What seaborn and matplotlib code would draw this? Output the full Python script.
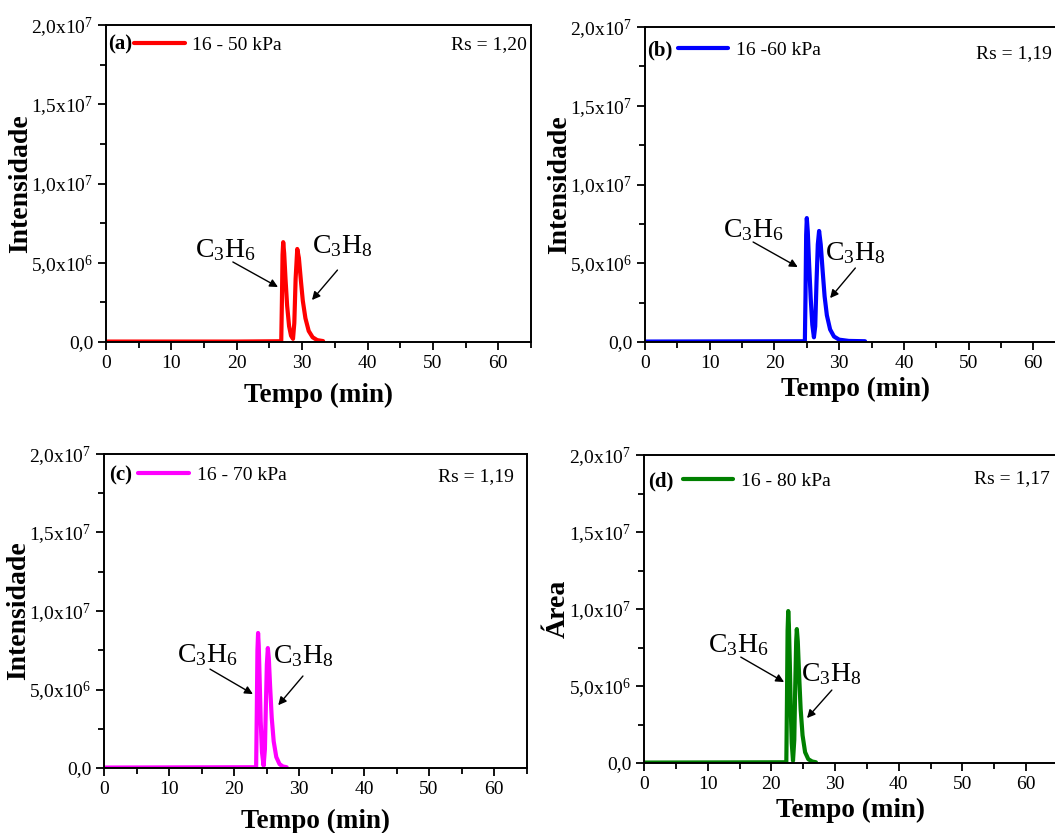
import matplotlib
matplotlib.use("Agg")
import matplotlib.pyplot as plt
import seaborn as sns
import pandas as pd

# ---------------- data ----------------
t_a = [0, 20, 26.8, 26.9, 27.0, 27.1, 27.25, 27.45, 27.7, 28.0, 28.3, 28.6, 28.8, 29.0,
       29.25, 29.5, 29.8, 30.1, 30.5, 31.0, 31.6, 32.3, 33.2]
i_a = [0.03, 0.03, 0.05, 2.5, 5.5, 6.3, 5.6, 4.0, 2.3, 1.0, 0.4, 0.2, 1.2, 4.0,
       5.87, 5.3, 3.9, 2.6, 1.5, 0.7, 0.3, 0.12, 0.06]

t_b = [0, 24.7, 24.8, 24.9, 25.0, 25.15, 25.35, 25.6, 25.85, 26.1, 26.3, 26.5, 26.7, 26.9,
       27.15, 27.45, 27.75, 28.1, 28.6, 29.2, 30.0, 31.5, 34.0]
i_b = [0.03, 0.05, 3.0, 6.8, 7.87, 7.0, 5.0, 2.8, 1.1, 0.3, 1.0, 3.8, 6.2, 7.05,
       6.2, 4.5, 2.9, 1.7, 0.8, 0.35, 0.15, 0.07, 0.05]

t_c = [0, 23.4, 23.5, 23.6, 23.7, 23.8, 23.95, 24.1, 24.3, 24.55, 24.75, 24.9, 25.05, 25.2,
       25.35, 25.55, 25.8, 26.1, 26.5, 27.0, 27.5, 28.1]
i_c = [0.03, 0.05, 3.5, 7.5, 8.6, 7.8, 5.5, 3.0, 1.0, 0.15, 1.2, 4.0, 6.6, 7.64,
       7.0, 5.2, 3.2, 1.7, 0.7, 0.25, 0.1, 0.05]

t_d = [0, 22.35, 22.45, 22.55, 22.65, 22.75, 22.9, 23.05, 23.2, 23.4, 23.6, 23.75, 23.9, 24.0,
       24.15, 24.35, 24.6, 24.9, 25.3, 25.8, 26.4, 27.0]
i_d = [0.03, 0.05, 4.0, 8.6, 9.87, 9.0, 6.5, 3.5, 1.3, 0.15, 1.5, 5.0, 7.9, 8.7,
       7.9, 5.8, 3.5, 1.8, 0.7, 0.25, 0.1, 0.05]

SCALE = 1e6
panel_tags = ["(a)", "(b)", "(c)", "(d)"]
series_labels = ["16 - 50 kPa", "16 -60 kPa", "16 - 70 kPa", "16 - 80 kPa"]
rs_labels = ["Rs = 1,20", "Rs = 1,19", "Rs = 1,19", "Rs = 1,17"]
ylabels = ["Intensidade", "Intensidade", "Intensidade", "Área"]
xlabel = "Tempo (min)"
colors = ["#ff0000", "#0000ff", "#ff00ff", "#008000"]

x_ticks = [0, 10, 20, 30, 40, 50, 60]
y_ticks = [0, 5e6, 1e7, 1.5e7, 2e7]
y_ticklabels = ["0,0", "5,0x10$^{6}$", "1,0x10$^{7}$", "1,5x10$^{7}$", "2,0x10$^{7}$"]

# annotation positions (text position, arrow tail, arrow head) in data units
ann_c3h6_text = [(13.6, 5.36e6), (12.1, 6.67e6), (11.2, 6.75e6), (10.0, 7.2e6)]
ann_c3h6_tail = [(19.4, 5.05e6), (16.7, 6.35e6), (16.3, 6.3e6), (15.2, 6.88e6)]
ann_c3h6_head = [(26.3, 3.47e6), (23.6, 4.76e6), (22.9, 4.71e6), (22.0, 5.26e6)]
ann_c3h8_text = [(31.5, 5.6e6), (27.8, 5.2e6), (26.0, 6.69e6), (24.6, 5.3e6)]
ann_c3h8_tail = [(35.4, 4.54e6), (32.5, 4.7e6), (30.6, 5.86e6), (29.5, 4.74e6)]
ann_c3h8_head = [(31.5, 2.65e6), (28.6, 2.79e6), (26.8, 4.0e6), (25.6, 2.92e6)]

# ---------------- style ----------------
sns.set_theme(style="ticks")
plt.rcParams["font.family"] = ["Liberation Serif", "DejaVu Serif"]
plt.rcParams["mathtext.fontset"] = "custom"
plt.rcParams["mathtext.rm"] = "Liberation Serif"
plt.rcParams["mathtext.it"] = "Liberation Serif:italic"
plt.rcParams["mathtext.bf"] = "Liberation Serif:bold"
plt.rcParams["text.color"] = "black"
plt.rcParams["axes.labelcolor"] = "black"
plt.rcParams["xtick.color"] = "black"
plt.rcParams["ytick.color"] = "black"
plt.rcParams["axes.edgecolor"] = "black"

fig = plt.figure(figsize=(10.55, 8.33), dpi=100)
positions = [
    [0.1005, 0.5894, 0.4028, 0.3806],
    [0.6114, 0.5894, 0.3987, 0.3782],
    [0.0986, 0.0780, 0.4005, 0.3770],
    [0.6104, 0.0840, 0.3924, 0.3697],
]
rs_pos = [(0.99, 0.937, "right"), (0.968, 0.917, "right"), (0.970, 0.927, "right"), (0.98, 0.922, "right")]
tag_pos = [(0.005, 0.937), (0.006, 0.927), (0.012, 0.933), (0.010, 0.915)]
leg_pos = [(0.066, 0.937), (0.078, 0.927), (0.081, 0.933), (0.094, 0.915)]
xlabel_pads = [8, 4, 8, 4]

times = [t_a, t_b, t_c, t_d]
intens = [i_a, i_b, i_c, i_d]

for k in range(4):
    ax = fig.add_axes(positions[k])
    df = pd.DataFrame({"t": times[k], "I": [v * SCALE for v in intens[k]]})
    sns.lineplot(data=df, x="t", y="I", ax=ax, color=colors[k], linewidth=3,
                 label=series_labels[k], sort=False)
    ax.set_xlim(0, 65)
    ax.set_ylim(0, 2e7)
    ax.set_xticks(x_ticks)
    ax.set_xticks([5, 15, 25, 35, 45, 55, 65], minor=True)
    ax.set_yticks(y_ticks)
    ax.set_yticks([2.5e6, 7.5e6, 1.25e7, 1.75e7], minor=True)
    ax.set_yticklabels(y_ticklabels)
    ax.set_xticklabels([str(v) for v in x_ticks])
    ax.tick_params(axis="both", which="major", direction="out", length=6, width=1.3,
                   labelsize=14, colors="black", pad=3)
    ax.tick_params(axis="both", which="minor", direction="out", length=4, width=1.3)
    for sp in ax.spines.values():
        sp.set_linewidth(1.4)
        sp.set_color("black")
        sp.set_visible(True)
    ax.set_xlabel(xlabel, fontsize=19.5, fontweight="bold", labelpad=xlabel_pads[k], color="black")
    ax.set_ylabel(ylabels[k], fontsize=20, fontweight="bold", labelpad=-1, color="black")

    # legend
    leg = ax.legend(loc="center left", bbox_to_anchor=leg_pos[k], frameon=False,
                    fontsize=14, handlelength=2.6, handletextpad=0.4,
                    borderpad=0, borderaxespad=0)
    for h in leg.get_lines():
        h.set_linewidth(3)
    for txt in leg.get_texts():
        txt.set_color("black")
    ax.text(tag_pos[k][0], tag_pos[k][1], panel_tags[k], transform=ax.transAxes,
            fontsize=15, fontweight="bold", ha="left", va="center", color="black")
    ax.text(rs_pos[k][0], rs_pos[k][1], rs_labels[k], transform=ax.transAxes,
            fontsize=14, ha=rs_pos[k][2], va="center", color="black")

    # annotations
    ax.text(*ann_c3h6_text[k], "C$_3$H$_6$", fontsize=20, ha="left", va="baseline", color="black")
    ax.text(*ann_c3h8_text[k], "C$_3$H$_8$", fontsize=20, ha="left", va="baseline", color="black")
    ax.annotate("", xy=ann_c3h6_head[k], xytext=ann_c3h6_tail[k],
                arrowprops=dict(arrowstyle="-|>", color="black", lw=1.0,
                                mutation_scale=12, shrinkA=0, shrinkB=0))
    ax.annotate("", xy=ann_c3h8_head[k], xytext=ann_c3h8_tail[k],
                arrowprops=dict(arrowstyle="-|>", color="black", lw=1.0,
                                mutation_scale=12, shrinkA=0, shrinkB=0))

fig.savefig("out.png", dpi=100)
